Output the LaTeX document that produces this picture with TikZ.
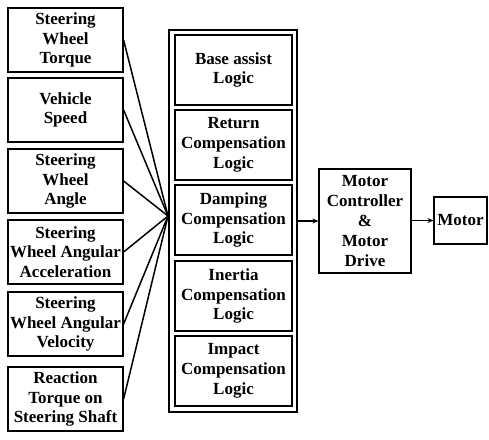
\documentclass[tikz,border=0pt]{standalone}
\usepackage{fontspec}
\setmainfont{Liberation Serif}
\usetikzlibrary{arrows.meta}

\begin{document}
\begin{tikzpicture}[x=1pt, y=-1pt,
    every node/.style={font=\fontsize{17}{19.8}\selectfont\bfseries, align=center},
    inbox/.style={draw, line width=1.2pt, minimum width=115pt, minimum height=64pt, inner sep=0pt},
    logicbox/.style={draw, line width=1.2pt, minimum width=117pt, minimum height=70pt, inner sep=0pt},
    feed/.style={line width=1.5pt},
    flow/.style={line width=1.2pt, -{Stealth[length=6pt, width=5pt]}}]

    \useasboundingbox (0,0) rectangle (489,439);

    % ---- Parameters ----
    \def\inX{65.5}     % input boxes centre x
    \def\logX{233.5}   % logic boxes centre x

    % ---- Input signals ----
    \node[inbox] (swt) at (\inX,40)  {Steering\\Wheel\\Torque};
    \node[inbox] (vs)  at (\inX,110) {Vehicle\\Speed};
    \node[inbox] (swa) at (\inX,181) {Steering\\Wheel\\Angle};
    \node[inbox] (swacc) at (\inX,252) {Steering\\Wheel Angular\\Acceleration};
    \node[inbox] (swv) at (\inX,324) {Steering\\Wheel Angular\\Velocity};
    \node[inbox] (rts) at (\inX,399) {Reaction\\Torque on\\Steering Shaft};

    % ---- Logic blocks ----
    \node[draw, line width=1.2pt, minimum width=128pt, minimum height=382pt,
          inner sep=0pt] (logic) at (233,221) {};
    \node[logicbox] (base) at (\logX,70)  {Base assist\\Logic};
    \node[logicbox] (ret)  at (\logX,145) {Return\\Compensation\\Logic};
    \node[logicbox] (damp) at (\logX,220) {Damping\\Compensation\\Logic};
    \node[logicbox] (inert) at (\logX,296) {Inertia\\Compensation\\Logic};
    \node[logicbox] (imp)  at (\logX,371) {Impact\\Compensation\\Logic};

    % ---- Motor side ----
    \node[draw, line width=1.2pt, minimum width=92pt, minimum height=104pt,
          inner sep=0pt] (mcd) at (365,221) {Motor\\Controller\\\&\\Motor\\Drive};
    \node[draw, line width=1.2pt, minimum width=53pt, minimum height=47pt,
          inner sep=0pt] (motor) at (460.5,220.5) {Motor};

    % ---- Signal lines into the logic block ----
    \coordinate (hub) at (168,216);
    \foreach \src in {swt, vs, swa, swacc, swv, rts}
        \draw[feed] (\src.east) -- (hub);

    % ---- Output chain ----
    \draw[flow] (logic.east |- mcd.west) -- (mcd.west);
    \draw[flow] (mcd.east |- motor.west) -- (motor.west);

\end{tikzpicture}
\end{document}
